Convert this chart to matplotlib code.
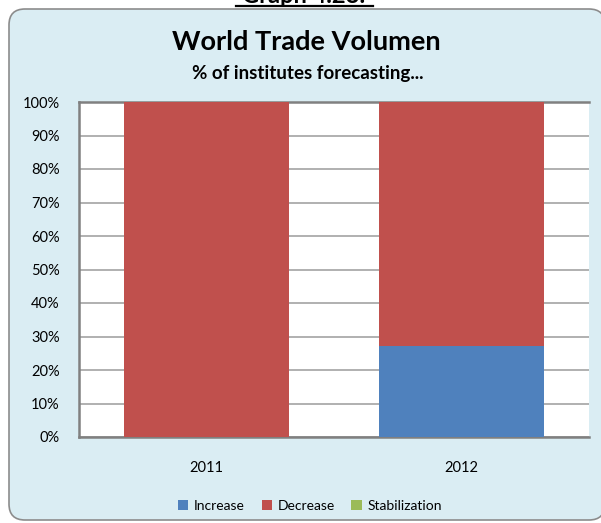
#!/usr/bin/env python3
"""World Trade Volumen: stacked 100% bars of institute forecasts."""

import matplotlib

matplotlib.use("Agg")
import matplotlib.pyplot as plt
from matplotlib.patches import FancyBboxPatch, Patch
from matplotlib.ticker import FuncFormatter

years = ["2011", "2012"]
increase = [0.0, 27.3]
decrease = [100.0, 72.7]
stabilization = [0.0, 0.0]
series_names = ["Increase", "Decrease", "Stabilization"]

plt.rcParams["font.family"] = ["Lato", "DejaVu Sans"]

W, H = 601, 523
fig = plt.figure(figsize=(W / 100, H / 100), dpi=100)
fig.patch.set_facecolor("white")

# chart box (right edge runs off the image, as in the source)
box = FancyBboxPatch(
    (0.09, 0.03), 5.96, 5.11,
    boxstyle="round,pad=0,rounding_size=0.16",
    transform=fig.dpi_scale_trans,
    facecolor="#daedf3", edgecolor="#8c8c8c", linewidth=1.2, zorder=0,
)
fig.patches.append(box)

# caption cut by the top of the picture, as in the source
fig.text(304 / W, 1 - 3 / H, "Graph 4.28:", ha="center", va="baseline",
         fontsize=17, fontweight="bold", color="black")
fig.add_artist(plt.Line2D([236 / W, 373 / W], [1 - 5.5 / H, 1 - 5.5 / H],
                          transform=fig.transFigure, color="black", linewidth=1.6))

fig.text(306 / W, 1 - 42 / H, "World Trade Volumen", ha="center", va="center",
         fontsize=19.5, fontweight="bold")
fig.text(308 / W, 1 - 73 / H, "% of institutes forecasting...", ha="center", va="center",
         fontsize=13.5, fontweight="bold")

ax = fig.add_axes([79 / W, (H - 437) / H, (589 - 79) / W, (437 - 102) / H], zorder=2)
ax.set_facecolor("white")

colors = {"Increase": "#4f81bd", "Decrease": "#c0504d", "Stabilization": "#9bbb59"}
x = list(range(len(years)))
width = 0.65
bottom = [0.0] * len(years)
for name, vals in zip(series_names, [increase, decrease, stabilization]):
    ax.bar(x, vals, width=width, bottom=bottom, color=colors[name], zorder=3)
    bottom = [b + v for b, v in zip(bottom, vals)]

ax.set_xlim(-0.5, 1.5)
ax.set_ylim(0, 100)
ax.set_yticks(range(0, 101, 10))
ax.yaxis.set_major_formatter(FuncFormatter(lambda v, _: f"{v:.0f}%"))
ax.set_xticks(x)
ax.set_xticklabels(years)
ax.tick_params(axis="y", length=0, pad=14, labelsize=10.5)
ax.tick_params(axis="x", length=0, pad=17, labelsize=10.5)
ax.yaxis.grid(True, color="#a3a3a3", linewidth=1.2, zorder=1)
ax.set_axisbelow(True)

for side in ["left", "top", "bottom"]:
    ax.spines[side].set_color("#808080")
    ax.spines[side].set_linewidth(1.8)
ax.spines["right"].set_visible(False)

handles = [Patch(facecolor=colors[n], edgecolor="none") for n in series_names]
fig.legend(handles, series_names, loc="center", bbox_to_anchor=(310 / W, 1 - 506 / H),
           ncol=3, frameon=False, fontsize=10, handlelength=0.75, handleheight=0.75,
           handletextpad=0.4, columnspacing=1.2)

fig.savefig("out.png", dpi=100)
plt.close(fig)
